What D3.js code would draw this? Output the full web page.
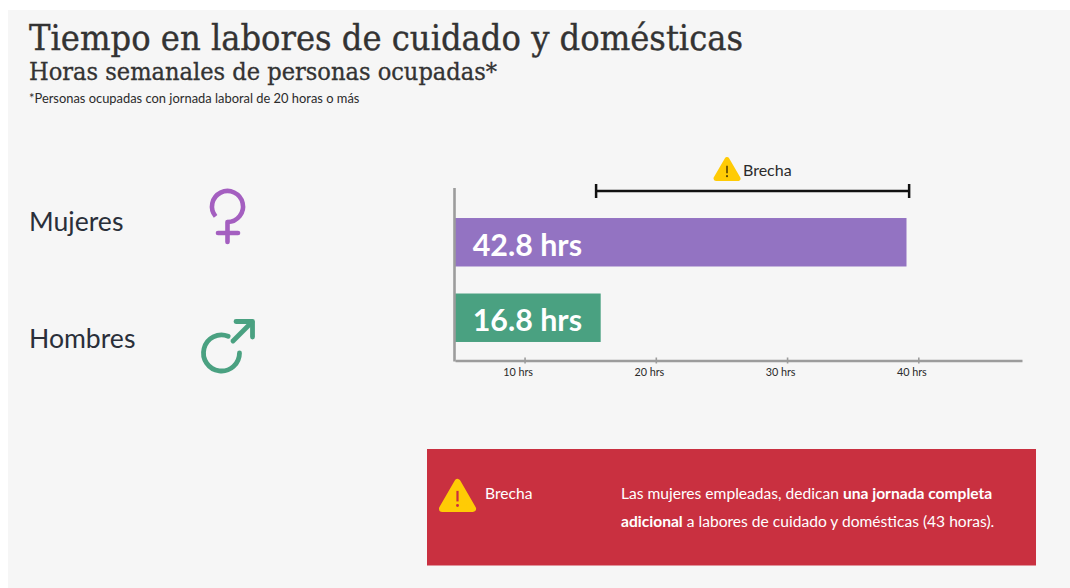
<!DOCTYPE html>
<html><head><meta charset="utf-8">
<script src="https://cdn.jsdelivr.net/npm/d3@7"></script>
<style>html,body{margin:0;padding:0;background:#fff}svg{display:block}text{font-family:Lato,"Open Sans",sans-serif}</style>
</head><body><svg id="c" width="1070" height="588"></svg>
<script>
const categories = ["Mujeres", "Hombres"];
const barEnds = [39.1, 15.8];           // bar ends as read against the drawn axis
const barLabels = ["42.8 hrs", "16.8 hrs"];
const barColors = ["#9373c2", "#4aa181"];
const gapRange = [15.45, 39.3];
const tickValues = [10, 20, 30, 40];
const tickLabels = ["10 hrs", "20 hrs", "30 hrs", "40 hrs"];
const title = "Tiempo en labores de cuidado y domésticas";
const subtitle = "Horas semanales de personas ocupadas*";
const note = "*Personas ocupadas con jornada laboral de 20 horas o más";

const svg = d3.select("#c");
svg.append("rect").attr("x",8).attr("y",10).attr("width",1062).attr("height",578).attr("fill","#f6f6f6");

const slab = '"DejaVu Serif Condensed","DejaVu Serif",serif';
svg.append("text").text(title).attr("x",29).attr("y",50).attr("font-size",36).attr("fill","#333")
  .attr("stroke","#333").attr("stroke-width",0.35)
  .style("font-family",slab).attr("textLength",714).attr("lengthAdjust","spacingAndGlyphs");
svg.append("text").text(subtitle).attr("x",29).attr("y",80).attr("font-size",24).attr("fill","#333")
  .attr("stroke","#333").attr("stroke-width",0.3)
  .style("font-family",slab).attr("textLength",468).attr("lengthAdjust","spacingAndGlyphs");
svg.append("text").text(note).attr("x",29).attr("y",103).attr("font-size",12.9).attr("fill","#2b2b2b");

const x = d3.scaleLinear().domain([4.7,47.9]).range([455,1022]);
const y = d3.scaleBand().domain(categories).range([191,369]).padding(0.358);

// bars
svg.selectAll("rect.bar").data(categories).join("rect").attr("class","bar")
  .attr("x",x(4.7)).attr("y",d=>y(d)).attr("height",y.bandwidth())
  .attr("width",(d,i)=>x(barEnds[i])-x(4.7)).attr("fill",(d,i)=>barColors[i]);
svg.selectAll("text.val").data(categories).join("text").attr("class","val")
  .attr("x",582).attr("y",d=>y(d)+y.bandwidth()/2+13.5).attr("text-anchor","end")
  .attr("font-size",30.4).attr("font-weight",700).attr("fill","#fff")
  .text((d,i)=>barLabels[i]);

// axes
const ax = d3.axisBottom(x).tickValues(tickValues).tickSize(0).tickFormat((d,i)=>tickLabels[i]);
const gx = svg.append("g").attr("transform","translate(0,360.5)").call(ax);
gx.select(".domain").attr("stroke","#9c9c9c").attr("stroke-width",2.6);
gx.selectAll(".tick line").attr("y1",-3).attr("y2",3).attr("stroke","#9c9c9c").attr("stroke-width",1.6);
gx.selectAll(".tick text").attr("dx",-7).attr("y",8).attr("font-size",10.8).attr("fill","#2b2b2b").style("font-family","Lato");
svg.append("line").attr("x1",454.5).attr("x2",454.5).attr("y1",188).attr("y2",361.5).attr("stroke","#9c9c9c").attr("stroke-width",2.6);

// gap bracket
const gy = 191;
const gap = svg.append("g").attr("stroke","#111").attr("stroke-width",2.5);
gap.append("line").attr("x1",x(gapRange[0])).attr("x2",x(gapRange[1])).attr("y1",gy).attr("y2",gy);
gapRange.forEach(v=>gap.append("line").attr("x1",x(v)).attr("x2",x(v)).attr("y1",gy-7).attr("y2",gy+7));

function warn(cx, top, w, h, markColor){
  const g = svg.append("g");
  const r = w*0.09;
  g.append("path").attr("fill","#ffcb05").attr("stroke","#ffcb05").attr("stroke-width",2*r).attr("stroke-linejoin","round")
    .attr("d",`M${cx},${top+r} L${cx+w/2-r},${top+h-r} L${cx-w/2+r},${top+h-r} Z`);
  g.append("line").attr("x1",cx).attr("x2",cx).attr("y1",top+h*0.36).attr("y2",top+h*0.68)
    .attr("stroke",markColor).attr("stroke-width",w*0.06);
  g.append("circle").attr("cx",cx).attr("cy",top+h*0.8).attr("r",w*0.04).attr("fill",markColor);
}
warn(727,157,27,24,"#5a4300");
svg.append("text").text("Brecha").attr("x",743).attr("y",176).attr("font-size",16).attr("fill","#2b2b2b");

// left labels
svg.selectAll("text.cat").data(categories).join("text").attr("class","cat")
  .attr("x",29).attr("y",(d,i)=>[231,348][i]).attr("font-size",26.6).attr("fill","#2a2f3a").text(d=>d);

// female icon
const arc = d3.arc();
const fem = svg.append("g").attr("fill","none").attr("stroke","#a45fc0").attr("stroke-width",4.6).attr("stroke-linecap","round");
fem.append("path").attr("transform","translate(227.5,206.5)")
  .attr("d",arc({innerRadius:15.5,outerRadius:15.5,startAngle:-Math.PI*0.72,endAngle:Math.PI}));
fem.append("line").attr("x1",227.5).attr("x2",227.5).attr("y1",222).attr("y2",242);
fem.append("line").attr("x1",218).attr("x2",238).attr("y1",233).attr("y2",233);

// male icon
const mal = svg.append("g").attr("fill","none").attr("stroke","#4aa181").attr("stroke-width",4.8).attr("stroke-linecap","round").attr("stroke-linejoin","round");
mal.append("path").attr("transform","translate(221.5,353)")
  .attr("d",arc({innerRadius:18,outerRadius:18,startAngle:Math.PI*0.5,endAngle:Math.PI*2.12}));
mal.append("line").attr("x1",233).attr("y1",341).attr("x2",252).attr("y2",322);
mal.append("path").attr("d","M236,321.5 L252.5,321.5 L252.5,337");

// red box
svg.append("rect").attr("x",427).attr("y",449).attr("width",609).attr("height",116.5).attr("fill","#c93040");
warn(457.5,479,37,33,"#c93040");
svg.append("text").text("Brecha").attr("x",485).attr("y",499).attr("font-size",15.6).attr("fill","#fff");
const t1 = svg.append("text").attr("x",621).attr("y",499).attr("font-size",15.6).attr("fill","#fff");
t1.append("tspan").text("Las mujeres empleadas, dedican ");
t1.append("tspan").attr("font-weight",700).text("una jornada completa");
const t2 = svg.append("text").attr("x",621).attr("y",527).attr("font-size",15.6).attr("fill","#fff");
t2.append("tspan").attr("font-weight",700).text("adicional");
t2.append("tspan").text(" a labores de cuidado y domésticas (43 horas).");
</script></body></html>
